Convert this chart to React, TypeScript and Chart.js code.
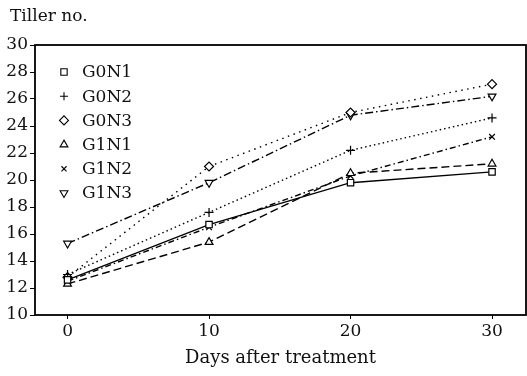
import React, { useEffect, useRef } from "react";
import { Chart, registerables } from "chart.js";
import { drawPoint } from "chart.js/helpers";

Chart.register(...registerables);

const days = [0, 10, 20, 30];
const seriesNames = ["G0N1", "G0N2", "G0N3", "G1N1", "G1N2", "G1N3"];
const g0n1 = [12.6, 16.7, 19.8, 20.6];
const g0n2 = [13.0, 17.6, 22.2, 24.6];
const g0n3 = [12.8, 21.0, 25.0, 27.1];
const g1n1 = [12.3, 15.4, 20.5, 21.2];
const g1n2 = [12.5, 16.5, 20.3, 23.2];
const g1n3 = [15.3, 19.8, 24.8, 26.2];
const yTickValues = [10, 12, 14, 16, 18, 20, 22, 24, 26, 28, 30];
const xTickValues = [0, 10, 20, 30];
const yAxisLabel = "Tiller no.";
const xAxisLabel = "Days after treatment";

const FONT = "'DejaVu Serif', serif";

const seriesValues = [g0n1, g0n2, g0n3, g1n1, g1n2, g1n3];
const pointStyles = ["rect", "cross", "rectRot", "triangle", "crossRot", "triangle"];
const rotations = [0, 0, 0, 0, 0, 180];
const radii = [4.5, 4.5, 4.5, 4.5, 4, 4.5];
const legendRadii = [4.5, 4, 4.5, 4.5, 3.6, 4.5];
const dashes = [[], [1.5, 3], [1.5, 4.5], [8, 4], [6, 3, 1.5, 3], [8, 3, 1.5, 3]];

const framePlugin = {
  id: "frameAndLegend",
  afterDraw(chart: any) {
    const { ctx, chartArea } = chart;
    ctx.save();
    ctx.strokeStyle = "#000";
    ctx.lineWidth = 1.8;
    ctx.strokeRect(chartArea.left, chartArea.top, chartArea.right - chartArea.left, chartArea.bottom - chartArea.top);

    ctx.fillStyle = "#111";
    ctx.font = `17px ${FONT}`;
    ctx.textBaseline = "alphabetic";
    ctx.textAlign = "left";
    ctx.fillText(yAxisLabel, 10, 21);

    const mx = chartArea.left + 29;
    const tx = chartArea.left + 47;
    let y = chartArea.top + 27;
    for (let i = 0; i < seriesNames.length; i++) {
      ctx.fillStyle = "#fff";
      ctx.strokeStyle = "#000";
      ctx.lineWidth = 1.1;
      ctx.setLineDash([]);
      drawPoint(ctx, { pointStyle: pointStyles[i], rotation: rotations[i], radius: legendRadii[i], borderWidth: 1.1 } as any, mx, y);
      ctx.fillStyle = "#111";
      ctx.textBaseline = "middle";
      ctx.fillText(seriesNames[i], tx, y + 1);
      y += 24.2;
    }
    ctx.restore();
  },
};

export default function App() {
  const ref = useRef<HTMLCanvasElement>(null);
  useEffect(() => {
    if (!ref.current) return;
    const chart = new Chart(ref.current, {
      type: "line",
      data: {
        datasets: seriesNames.map((name, i) => ({
          label: name,
          data: days.map((d, j) => ({ x: d, y: seriesValues[i][j] })),
          borderColor: "#000",
          backgroundColor: "#fff",
          borderWidth: 1.4,
          borderDash: dashes[i],
          pointStyle: pointStyles[i] as any,
          rotation: rotations[i],
          pointRadius: radii[i],
          pointBorderWidth: 1.2,
          pointBorderColor: "#000",
          pointBackgroundColor: "#fff",
          tension: 0,
          fill: false,
          clip: 8,
        })),
      },
      options: {
        animation: false,
        responsive: false,
        layout: { autoPadding: false, padding: { top: 45, right: 1, left: 0, bottom: 0 } },
        plugins: { legend: { display: false }, tooltip: { enabled: false }, title: { display: false } },
        scales: {
          x: {
            type: "linear",
            min: -2.3,
            max: 32.4,
            afterBuildTicks: (s: any) => { s.ticks = xTickValues.map((v) => ({ value: v })); },
            afterFit: (s: any) => { s.height = 61; s.paddingLeft = 0; s.paddingRight = 0; },
            border: { display: false },
            grid: { drawOnChartArea: false, drawTicks: true, tickLength: 4, color: "#000", lineWidth: 1 },
            ticks: { color: "#111", font: { family: FONT, size: 17 }, padding: 2, maxRotation: 0 },
            title: { display: true, text: xAxisLabel, color: "#111", font: { family: FONT, size: 18 }, padding: { top: 0, bottom: 7 } },
          },
          y: {
            type: "linear",
            min: 10,
            max: 30,
            afterBuildTicks: (s: any) => { s.ticks = yTickValues.map((v) => ({ value: v })); },
            afterFit: (s: any) => { s.width = 35; },
            border: { display: false },
            grid: { drawOnChartArea: false, drawTicks: true, tickLength: 5, color: "#000", lineWidth: 1 },
            ticks: { color: "#111", font: { family: FONT, size: 17 }, padding: 2 },
          },
        },
      },
      plugins: [framePlugin],
    });
    return () => chart.destroy();
  }, []);
  return (
    <div style={{ position: "absolute", left: 0, top: 0, width: 527, height: 376, background: "#fff" }}>
      <canvas ref={ref} width={527} height={376} style={{ display: "block" }} />
    </div>
  );
}
